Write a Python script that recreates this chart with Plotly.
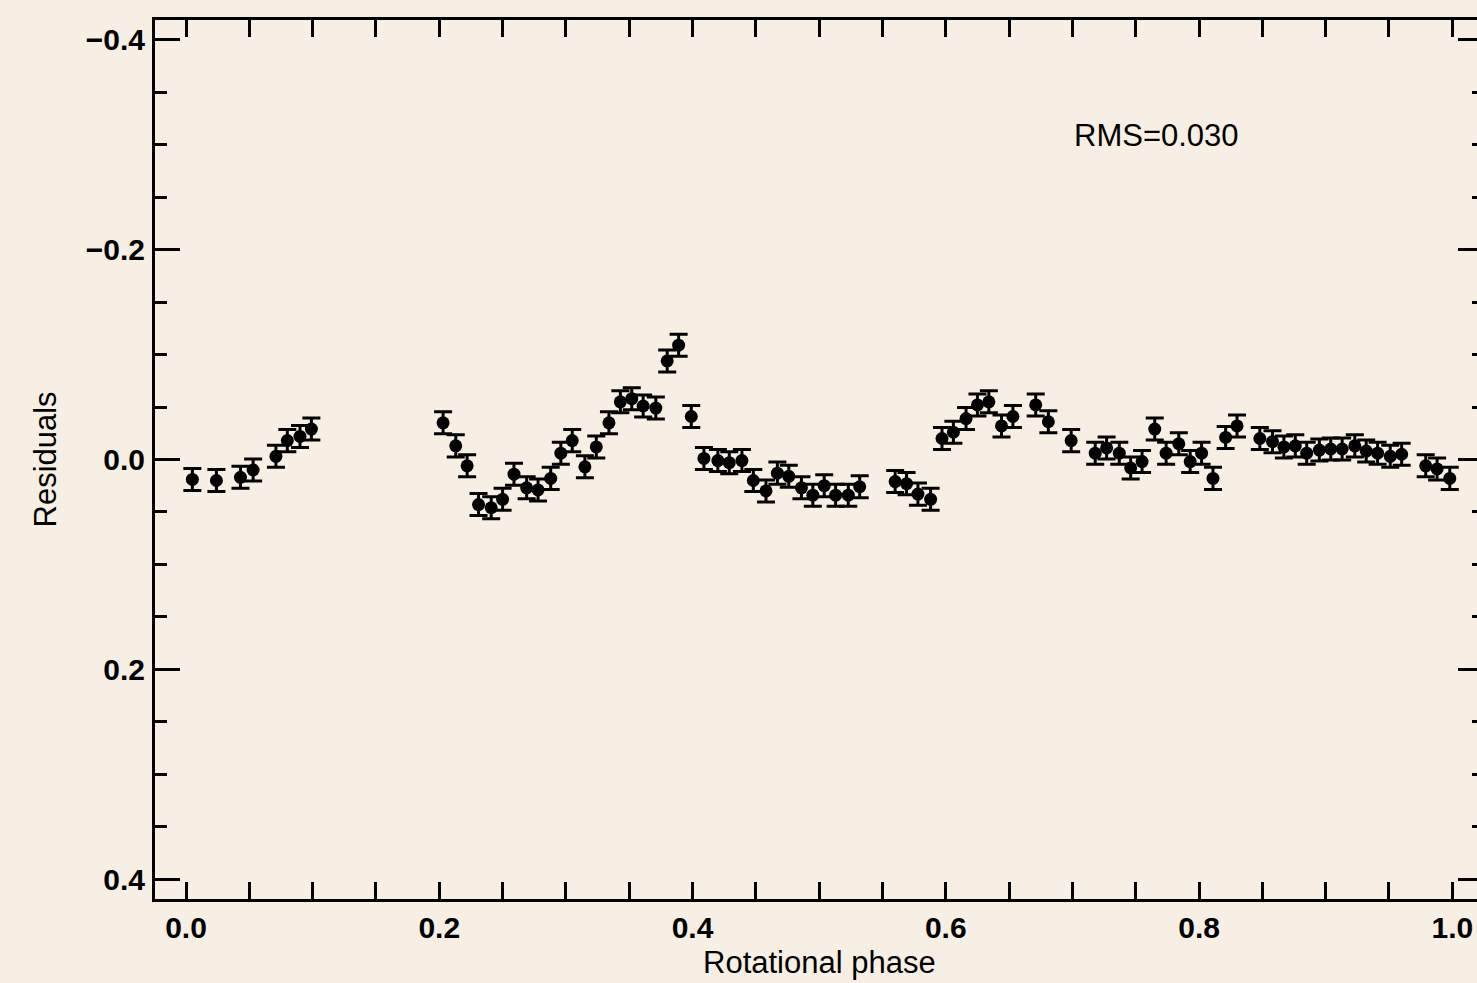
import plotly.graph_objects as go

# Rotational phase values
phase = [0.005, 0.024, 0.043, 0.053, 0.071, 0.080, 0.090, 0.099,
         0.203, 0.213, 0.222, 0.231, 0.241, 0.250, 0.259, 0.269, 0.278, 0.288, 0.296,
         0.305, 0.315, 0.324, 0.334, 0.343, 0.352, 0.361, 0.371, 0.380, 0.389, 0.399,
         0.409, 0.420, 0.429, 0.439, 0.448, 0.458, 0.467, 0.476, 0.486, 0.495, 0.504,
         0.513, 0.523, 0.532,
         0.560, 0.569, 0.578, 0.588,
         0.597, 0.606, 0.616, 0.625, 0.634, 0.644, 0.653, 0.671, 0.681, 0.699, 0.718,
         0.727, 0.737, 0.746, 0.755, 0.765, 0.774, 0.784, 0.793, 0.802, 0.811, 0.821, 0.830,
         0.848, 0.858, 0.867, 0.876, 0.885, 0.895, 0.904, 0.913, 0.923, 0.932, 0.941,
         0.951, 0.960, 0.979, 0.988, 0.998]

# Residual values
residuals = [0.019, 0.020, 0.017, 0.010, -0.003, -0.018, -0.022, -0.029,
             -0.035, -0.013, 0.006, 0.043, 0.046, 0.038, 0.014, 0.027, 0.029, 0.018, -0.006,
             -0.018, 0.007, -0.012, -0.035, -0.055, -0.058, -0.051, -0.049, -0.094, -0.109, -0.041,
             -0.001, 0.001, 0.003, 0.001, 0.020, 0.030, 0.013, 0.016, 0.027, 0.034, 0.025,
             0.034, 0.034, 0.026,
             0.021, 0.023, 0.033, 0.038,
             -0.020, -0.026, -0.039, -0.052, -0.055, -0.032, -0.041, -0.052, -0.036, -0.018, -0.006,
             -0.011, -0.006, 0.008, 0.002, -0.029, -0.006, -0.015, 0.002, -0.006, 0.018, -0.021, -0.032,
             -0.020, -0.017, -0.012, -0.013, -0.006, -0.009, -0.010, -0.010, -0.013, -0.008, -0.006,
             -0.003, -0.005, 0.006, 0.009, 0.018]

error = 0.0105

x_ticks = [0.0, 0.2, 0.4, 0.6, 0.8, 1.0]
x_labels = ["0.0", "0.2", "0.4", "0.6", "0.8", "1.0"]
y_ticks = [-0.4, -0.2, 0.0, 0.2, 0.4]
y_labels = ["\u22120.4", "\u22120.2", "0.0", "0.2", "0.4"]

rms_text = "RMS=0.030"

BG = "#f8efe4"
FONT = "Liberation Sans, Arial, Helvetica, sans-serif"

fig = go.Figure()
fig.add_trace(go.Scatter(
    x=phase, y=residuals, mode="markers",
    marker=dict(color="black", size=13, symbol="circle"),
    error_y=dict(type="constant", value=error, color="black", thickness=3, width=9),
    showlegend=False, hoverinfo="x+y",
))
# invisible trace on the mirrored right axis
fig.add_trace(go.Scatter(
    x=phase, y=residuals, mode="markers", yaxis="y2",
    marker=dict(color="rgba(0,0,0,0)", size=1), showlegend=False, hoverinfo="skip",
))

yr = [0.419, -0.419]

fig.update_layout(
    width=1477, height=983,
    paper_bgcolor=BG, plot_bgcolor=BG,
    margin=dict(l=155, r=0, t=20, b=84),
    font=dict(family=FONT, color="black"),
    xaxis=dict(
        range=[-0.0245, 1.0195], showgrid=False, zeroline=False,
        showline=True, linecolor="black", linewidth=3, mirror="allticks",
        ticks="inside", ticklen=17, tickwidth=3, tickcolor="black",
        tickvals=x_ticks, ticktext=x_labels,
        tickfont=dict(family=FONT, size=30, color="black", weight="bold"),
        minor=dict(ticks="inside", dtick=0.05, tick0=0, ticklen=9, tickwidth=3,
                   tickcolor="black", showgrid=False),
        ticklabelstandoff=0,
    ),
    yaxis=dict(
        range=yr, showgrid=False, zeroline=False,
        showline=True, linecolor="black", linewidth=3, mirror=False,
        ticks="inside", ticklen=25, tickwidth=3, tickcolor="black",
        tickvals=y_ticks, ticktext=y_labels,
        tickfont=dict(family=FONT, size=30, color="black", weight="bold"),
        minor=dict(ticks="inside", dtick=0.05, tick0=0, ticklen=12, tickwidth=3,
                   tickcolor="black", showgrid=False),
        ticklabelstandoff=1,
    ),
    yaxis2=dict(
        range=yr, overlaying="y", side="right", showgrid=False, zeroline=False,
        showline=False, showticklabels=False,
        ticks="inside", ticklen=19, tickwidth=3, tickcolor="black",
        tickvals=y_ticks,
        minor=dict(ticks="inside", dtick=0.05, tick0=0, ticklen=5, tickwidth=3,
                   tickcolor="black", showgrid=False),
    ),
    annotations=[
        dict(text=rms_text, x=0.7666, y=-0.309, xref="x", yref="y",
             showarrow=False, xanchor="center", yanchor="middle",
             font=dict(family=FONT, size=31, color="black")),
        dict(text="Rotational phase", x=0.5005, y=(899 - 963) / 879, xref="x", yref="paper",
             showarrow=False, xanchor="center", yanchor="middle",
             font=dict(family=FONT, size=31, color="black")),
        dict(text="Residuals", x=(45 - 155) / 1322, y=0.0, xref="paper", yref="y",
             showarrow=False, xanchor="center", yanchor="middle", textangle=-90,
             font=dict(family=FONT, size=31, color="black")),
    ],
)

fig.write_html("out.html")
